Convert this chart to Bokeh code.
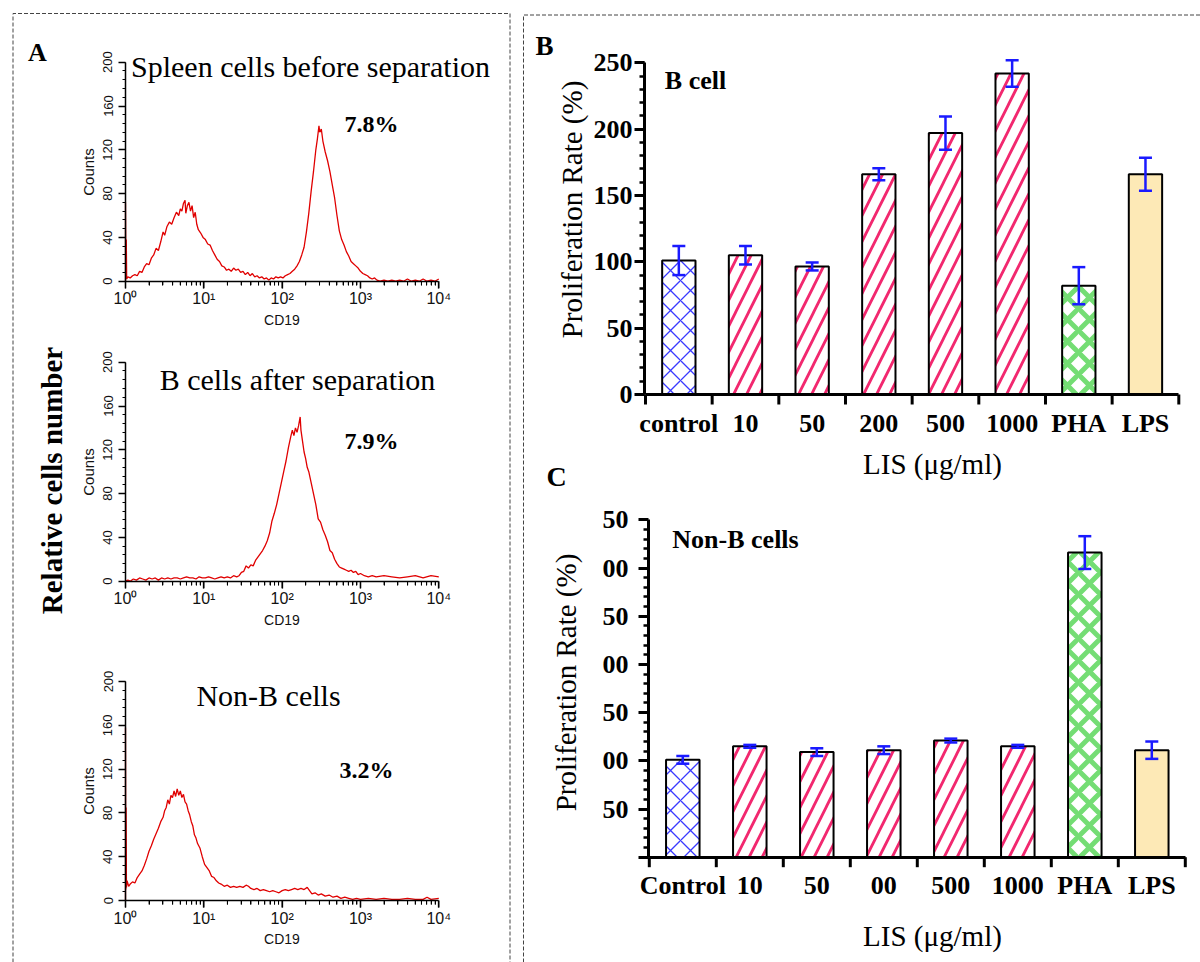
import math
from bokeh.plotting import figure
from bokeh.models import (Range1d, LogScale, LinearAxis, LogAxis, FixedTicker,
                          SingleIntervalTicker, Label, ColumnDataSource)
from bokeh.embed import file_html
from bokeh.resources import INLINE

# ---------------- data ----------------
# Panel A: flow-cytometry histograms (x = log10 of CD19 intensity, y = counts)
h1_log_cd19 = [
    0.00, 0.00, 0.005, 0.01, 0.015, 0.03, 0.06, 0.09, 0.12, 0.15,
    0.18, 0.21, 0.24, 0.27, 0.30, 0.33, 0.36, 0.39, 0.42, 0.45,
    0.48, 0.50, 0.53, 0.56, 0.59, 0.62, 0.65, 0.68, 0.70, 0.72,
    0.74, 0.76, 0.77, 0.79, 0.81, 0.83, 0.85, 0.87, 0.89, 0.91,
    0.93, 0.96, 0.99, 1.02, 1.05, 1.08, 1.11, 1.14, 1.17, 1.20,
    1.23, 1.26, 1.29, 1.32, 1.35, 1.38, 1.41, 1.44, 1.47, 1.50,
    1.53, 1.56, 1.59, 1.62, 1.65, 1.68, 1.71, 1.74, 1.77, 1.80,
    1.83, 1.86, 1.89, 1.92, 1.95, 1.98, 2.01, 2.04, 2.07, 2.10,
    2.13, 2.16, 2.19, 2.22, 2.25, 2.28, 2.31, 2.34, 2.37, 2.40,
    2.43, 2.45, 2.47, 2.48, 2.50, 2.52, 2.55, 2.58, 2.61, 2.64,
    2.67, 2.70, 2.73, 2.76, 2.79, 2.82, 2.85, 2.88, 2.91, 2.94,
    2.97, 3.00, 3.03, 3.06, 3.09, 3.12, 3.15, 3.18, 3.21, 3.25,
    3.30, 3.35, 3.40, 3.45, 3.50, 3.55, 3.60, 3.65, 3.70, 3.75,
    3.80, 3.85, 3.90, 3.95, 4.00]
h1_counts = [
    0, 72, 6, 38, 2, 4, 3, 5, 6, 5,
    9, 8, 13, 16, 15, 21, 24, 30, 28, 36,
    45, 42, 50, 54, 52, 58, 63, 60, 66, 64,
    71, 74, 62, 69, 72, 64, 69, 58, 63, 52,
    47, 44, 40, 38, 34, 33, 28, 24, 20, 18,
    14, 13, 10, 11, 9, 12, 10, 11, 8, 9,
    6, 8, 5, 7, 4, 5, 3, 4, 2, 3,
    1, 3, 2, 4, 3, 4, 3, 5, 6, 7,
    9, 11, 14, 18, 24, 31, 45, 62, 82, 100,
    120, 130, 142, 136, 139, 128, 118, 110, 100, 88,
    76, 60, 46, 38, 33, 27, 23, 18, 16, 14,
    12, 9, 7, 6, 5, 3, 2, 3, 1, 0,
    1, 0, 1, 0, 1, 0, 2, 0, 1, 0,
    2, 0, 1, 0, 2]

h2_log_cd19 = [
    0.00, 0.03, 0.06, 0.10, 0.14, 0.18, 0.22, 0.26, 0.30, 0.34,
    0.38, 0.42, 0.46, 0.50, 0.54, 0.58, 0.62, 0.66, 0.70, 0.74,
    0.78, 0.82, 0.86, 0.90, 0.94, 0.98, 1.02, 1.06, 1.10, 1.14,
    1.18, 1.22, 1.26, 1.30, 1.34, 1.38, 1.42, 1.45, 1.48, 1.51,
    1.54, 1.57, 1.60, 1.63, 1.66, 1.69, 1.72, 1.75, 1.78, 1.81,
    1.84, 1.87, 1.90, 1.93, 1.96, 1.99, 2.02, 2.05, 2.08, 2.11,
    2.13, 2.15, 2.17, 2.19, 2.21, 2.23, 2.24, 2.26, 2.28, 2.30,
    2.32, 2.34, 2.37, 2.40, 2.43, 2.46, 2.49, 2.52, 2.55, 2.58,
    2.61, 2.64, 2.67, 2.70, 2.73, 2.76, 2.79, 2.82, 2.85, 2.88,
    2.91, 2.94, 2.97, 3.00, 3.05, 3.10, 3.15, 3.20, 3.30, 3.40,
    3.50, 3.60, 3.70, 3.80, 3.90, 4.00]
h2_counts = [
    0, 1, 0, 2, 1, 3, 2, 1, 3, 2,
    3, 1, 3, 2, 3, 2, 3, 3, 2, 3,
    4, 3, 3, 2, 4, 3, 3, 4, 3, 2,
    3, 4, 3, 4, 3, 5, 4, 5, 8, 9,
    14, 12, 15, 14, 19, 22, 25, 28, 32, 37,
    44, 55, 62, 70, 80, 90, 100, 110, 122, 132,
    138, 133, 140, 136, 142, 150, 138, 128, 118, 112,
    104, 100, 90, 80, 70, 57, 54, 47, 42, 36,
    28, 26, 20, 16, 13, 12, 11, 10, 9, 10,
    8, 9, 6, 7, 5, 4, 5, 4, 5, 4,
    3, 4, 5, 3, 5, 4]

h3_log_cd19 = [
    0.00, 0.00, 0.004, 0.008, 0.012, 0.02, 0.04, 0.06, 0.09, 0.12,
    0.15, 0.18, 0.21, 0.24, 0.27, 0.30, 0.33, 0.36, 0.39, 0.42,
    0.45, 0.48, 0.50, 0.52, 0.54, 0.56, 0.58, 0.60, 0.62, 0.64,
    0.66, 0.68, 0.70, 0.72, 0.74, 0.76, 0.78, 0.80, 0.82, 0.84,
    0.86, 0.88, 0.90, 0.92, 0.95, 0.98, 1.01, 1.04, 1.07, 1.10,
    1.13, 1.16, 1.19, 1.22, 1.26, 1.30, 1.34, 1.38, 1.42, 1.46,
    1.50, 1.54, 1.57, 1.60, 1.64, 1.68, 1.72, 1.76, 1.80, 1.84,
    1.88, 1.92, 1.96, 2.00, 2.04, 2.08, 2.12, 2.16, 2.20, 2.24,
    2.28, 2.32, 2.35, 2.38, 2.42, 2.46, 2.50, 2.55, 2.60, 2.65,
    2.70, 2.75, 2.80, 2.85, 2.90, 2.95, 3.00, 3.10, 3.20, 3.30,
    3.40, 3.50, 3.60, 3.70, 3.80, 3.85, 3.90, 4.00]
h3_counts = [
    0, 158, 10, 85, 12, 18, 13, 15, 17, 16,
    21, 24, 27, 32, 38, 45, 50, 56, 61, 66,
    72, 76, 82, 85, 92, 88, 96, 94, 100, 95,
    102, 96, 100, 94, 97, 90, 88, 82, 78, 72,
    68, 60, 57, 52, 48, 40, 33, 30, 27, 22,
    21, 18, 16, 15, 13, 14, 12, 13, 12, 13,
    12, 14, 13, 11, 10, 11, 9, 10, 9, 8,
    9, 8, 7, 9, 10, 9, 10, 11, 10, 11,
    10, 12, 9, 6, 7, 5, 6, 4, 5, 3,
    4, 2, 3, 2, 1, 2, 1, 2, 1, 2,
    1, 1, 2, 1, 1, 3, 1, 2]

hist_titles = ["Spleen cells before separation", "B cells after separation", "Non-B cells"]
hist_percents = ["7.8%", "7.9%", "3.2%"]
hist_decades = [1, 10, 100, 1000, 10000]
hist_decade_labels = ["10\u2070", "10\u00b9", "10\u00b2", "10\u00b3", "10\u2074"]

# Panel B
b_categories = ["control", "10", "50", "200", "500", "1000", "PHA", "LPS"]
b_values = [101, 105, 96.5, 166, 197, 242, 82, 166]
b_errors = [11, 7, 3, 4.5, 12.5, 10, 14, 12.5]

# Panel C (tick labels as printed, leading digits cropped in the original)
c_categories = ["Control", "10", "50", "00", "500", "1000", "PHA", "LPS"]
c_values = [101, 115, 109, 111, 121, 115, 316, 111]
c_errors = [4, 1.5, 4, 4, 2, 1.5, 17, 9]
c_tick_values = [0, 50, 100, 150, 200, 250, 300, 350]
c_tick_labels = ["", "50", "00", "50", "00", "50", "00", "50"]

bar_kind = ["control", "lis", "lis", "lis", "lis", "lis", "pha", "lps"]

# ---------------- layout / style ----------------
W, H = 1200, 962
SERIF = "Liberation Serif"
SANS = "Liberation Sans"
EB = "#1a1aff"
STYLE = {
    "control": dict(fill="white", hatch="x", hcolor="#3a3aff", hscale=20, hweight=1.3),
    "lis": dict(fill="white", hatch="/", hcolor="#f2286f", hscale=26, hweight=2.8),
    "pha": dict(fill="white", hatch="x", hcolor="#74dd74", hscale=22, hweight=5),
    "lps": dict(fill="#fde9b6", hatch=" ", hcolor="#fde9b6", hscale=12, hweight=1),
}


def Y(px):
    """page pixel row (from top) -> default y coordinate (bottom-up)"""
    return H - px


def lin_x(v_a, p_a, v_b, p_b):
    k = (v_b - v_a) / (p_b - p_a)
    return Range1d(v_a - p_a * k, v_a + (W - p_a) * k)


def lin_y(v_a, p_a, v_b, p_b):
    k = (v_b - v_a) / (p_b - p_a)
    return Range1d(v_a + (H - p_a) * k, v_a - p_a * k)


def log_x(e_a, p_a, e_b, p_b):
    k = (e_b - e_a) / (p_b - p_a)
    return Range1d(10 ** (e_a - p_a * k), 10 ** (e_a + (W - p_a) * k))


def px_len(rng, px):
    """length of px screen pixels expressed in units of a vertical range"""
    return (rng.end - rng.start) * px / H


p = figure(width=W, height=H, x_range=Range1d(0, W), y_range=Range1d(0, H),
           x_axis_type=None, y_axis_type=None, toolbar_location=None,
           output_backend="svg", min_border=0, outline_line_color=None,
           background_fill_color="white", border_fill_color="white")

# histogram geometry (pixel positions of axis ends)
HX0, HX1 = 125, 438.3
hist_y = [(280.7, 61.7), (580.7, 361.7), (900.0, 681.0)]

p.extra_x_ranges = {
    "xA": log_x(0, HX0, 4, HX1),
    "xB": lin_x(-0.5, 645, 7.5, 1178.3),
    "xC": lin_x(-0.5, 648.8, 7.5, 1184.8),
}
p.extra_x_scales = {"xA": LogScale()}
p.extra_y_ranges = {
    "yA1": lin_y(0, hist_y[0][0], 200, hist_y[0][1]),
    "yA2": lin_y(0, hist_y[1][0], 200, hist_y[1][1]),
    "yA3": lin_y(0, hist_y[2][0], 200, hist_y[2][1]),
    "yB": lin_y(0, 394, 250, 62.3),
    "yC": lin_y(0, 856.7, 350, 519.3),
}

# ---------------- dashed panel borders ----------------
p.line([12.5, 12.5, 509.5, 509.5], [Y(H), Y(13), Y(13), Y(H)], line_color="#444444",
       line_width=1, line_dash="4 2")
p.line([523, 523, W], [Y(H), Y(14.5), Y(14.5)], line_color="#444444",
       line_width=1, line_dash="4 2")

# ---------------- Panel A ----------------
minor_log = [m * 10 ** d for d in range(4) for m in range(2, 10)]
hist_data = [(h1_log_cd19, h1_counts), (h2_log_cd19, h2_counts), (h3_log_cd19, h3_counts)]
for i, (logs, counts) in enumerate(hist_data):
    yname = "yA%d" % (i + 1)
    yr = p.extra_y_ranges[yname]
    p.line([10 ** e for e in logs], counts, x_range_name="xA", y_range_name=yname,
           line_color="#e00000", line_width=1.3)
    xa = LogAxis(x_range_name="xA", fixed_location=Y(hist_y[i][0]), bounds=(1, 10000),
                 ticker=FixedTicker(ticks=hist_decades, minor_ticks=minor_log),
                 major_label_overrides=dict(zip(hist_decades, hist_decade_labels)),
                 axis_label="CD19", axis_line_width=1.5, axis_line_color="black",
                 major_tick_out=7, major_tick_in=0, minor_tick_out=4, minor_tick_in=0,
                 major_tick_line_width=1.3, minor_tick_line_width=1,
                 major_tick_line_color="black", minor_tick_line_color="black",
                 major_label_text_font=SANS, major_label_text_font_size="16px",
                 major_label_text_color="#111111", major_label_standoff=2,
                 axis_label_text_font=SANS, axis_label_text_font_size="14px",
                 axis_label_text_font_style="normal", axis_label_text_color="#111111",
                 axis_label_standoff=1)
    p.add_layout(xa, "below")
    # tick marks under the x axis
    p.segment(x0=hist_decades, x1=hist_decades, y0=[0] * 5, y1=[-px_len(yr, 7)] * 5,
              x_range_name="xA", y_range_name=yname, line_color="black", line_width=1.3)
    p.segment(x0=minor_log, x1=minor_log, y0=[0] * len(minor_log),
              y1=[-px_len(yr, 4)] * len(minor_log),
              x_range_name="xA", y_range_name=yname, line_color="black", line_width=1)
    ya = LinearAxis(y_range_name=yname, fixed_location=HX0, bounds=(0, 200),
                    ticker=SingleIntervalTicker(interval=40, num_minor_ticks=5),
                    major_label_orientation="vertical",
                    axis_label="Counts", axis_line_width=1.5, axis_line_color="black",
                    major_tick_out=7, major_tick_in=0, minor_tick_out=3, minor_tick_in=0,
                    major_tick_line_width=1.3, minor_tick_line_width=1,
                    major_tick_line_color="black", minor_tick_line_color="black",
                    major_label_text_font=SANS, major_label_text_font_size="13px",
                    major_label_text_color="#111111", major_label_standoff=6,
                    axis_label_text_font=SANS, axis_label_text_font_size="15px",
                    axis_label_text_font_style="normal", axis_label_text_color="#111111",
                    axis_label_standoff=4)
    p.add_layout(ya, "left")

title_pos = [(310, 66), (297, 379), (268, 695)]
pct_pos = [(371, 123), (371, 440), (366, 769)]
for t, (tx, ty) in zip(hist_titles, title_pos):
    p.add_layout(Label(x=tx, y=Y(ty), text=t, text_font=SERIF, text_font_size="30px",
                       text_align="center", text_baseline="middle", text_color="black"))
for t, (tx, ty) in zip(hist_percents, pct_pos):
    p.add_layout(Label(x=tx, y=Y(ty), text=t, text_font=SERIF, text_font_size="24px",
                       text_font_style="bold", text_align="center", text_baseline="middle",
                       text_color="black"))
p.add_layout(Label(x=37, y=Y(52), text="A", text_font=SERIF, text_font_size="26px",
                   text_font_style="bold", text_align="center", text_baseline="middle",
                   text_color="black"))
p.add_layout(Label(x=51, y=Y(480), text="Relative cells number", angle=math.pi / 2,
                   text_font=SERIF, text_font_size="29px", text_font_style="bold",
                   text_align="center", text_baseline="middle", text_color="black"))


# ---------------- Panels B and C ----------------
def bar_panel(xname, yname, cats, vals, errs, x_axis_px, y_axis_px, y_bounds,
              y_ticker, y_overrides, y_label_standoff):
    idx = list(range(len(cats)))
    yr = p.extra_y_ranges[yname]
    src = ColumnDataSource(dict(
        x=idx, top=vals,
        fill=[STYLE[k]["fill"] for k in bar_kind],
        hatch=[STYLE[k]["hatch"] for k in bar_kind],
        hcolor=[STYLE[k]["hcolor"] for k in bar_kind],
        hscale=[STYLE[k]["hscale"] for k in bar_kind],
        hweight=[STYLE[k]["hweight"] for k in bar_kind],
    ))
    p.vbar(x="x", top="top", bottom=0, width=0.5, source=src,
           x_range_name=xname, y_range_name=yname,
           fill_color="fill", hatch_pattern="hatch", hatch_color="hcolor",
           hatch_scale="hscale", hatch_weight="hweight",
           line_color="black", line_width=2)
    lo = [v - e for v, e in zip(vals, errs)]
    hi = [v + e for v, e in zip(vals, errs)]
    p.segment(x0=idx, y0=lo, x1=idx, y1=hi, x_range_name=xname, y_range_name=yname,
              line_color=EB, line_width=2.5)
    p.scatter(x=idx + idx, y=lo + hi, marker="dash", size=13, line_color=EB,
              line_width=2.5, x_range_name=xname, y_range_name=yname)

    ya = LinearAxis(y_range_name=yname, fixed_location=y_axis_px, bounds=y_bounds,
                    ticker=y_ticker, axis_line_width=3, axis_line_color="black",
                    major_tick_out=10, major_tick_in=0, minor_tick_out=5, minor_tick_in=0,
                    major_tick_line_width=3, minor_tick_line_width=2.5,
                    major_tick_line_color="black", minor_tick_line_color="black",
                    major_label_text_font=SERIF, major_label_text_font_style="bold",
                    major_label_text_color="black",
                    major_label_text_font_size="26px", major_label_standoff=y_label_standoff)
    if y_overrides:
        ya.major_label_overrides = y_overrides
    p.add_layout(ya, "left")

    # category axis: labels at bar centres
    xa = LinearAxis(x_range_name=xname, fixed_location=Y(x_axis_px),
                    bounds=(-0.5, len(cats) - 0.5),
                    ticker=FixedTicker(ticks=idx, minor_ticks=[]),
                    major_label_overrides=dict(zip(idx, cats)),
                    axis_line_width=3, axis_line_color="black",
                    major_tick_line_color=None, major_tick_out=10, major_tick_in=0,
                    minor_tick_line_color=None,
                    major_label_text_font=SERIF, major_label_text_font_style="bold",
                    major_label_text_color="black",
                    major_label_text_font_size="26px", major_label_standoff=4)
    p.add_layout(xa, "below")
    # separator ticks between categories, below the axis line
    edges = [i - 0.5 for i in range(len(cats) + 1)]
    p.segment(x0=edges, x1=edges, y0=[0] * len(edges),
              y1=[-px_len(yr, 10)] * len(edges),
              x_range_name=xname, y_range_name=yname, line_color="black", line_width=3)


bar_panel("xB", "yB", b_categories, b_values, b_errors, 394, 644, (0, 250),
          SingleIntervalTicker(interval=50, num_minor_ticks=5), None, 2)
c_minor = [v for v in range(10, 350, 10) if v % 50]
bar_panel("xC", "yC", c_categories, c_values, c_errors, 856.7, 648, (0, 350),
          FixedTicker(ticks=c_tick_values, minor_ticks=c_minor),
          dict(zip(c_tick_values, c_tick_labels)), 10)

# panel texts
for tx, ty, t, size in [(544, 45, "B", "27px"), (556, 476, "C", "28px"),
                        (695, 80, "B cell", "26px"), (735, 539, "Non-B cells", "26px")]:
    p.add_layout(Label(x=tx, y=Y(ty), text=t, text_font=SERIF, text_font_size=size,
                       text_font_style="bold", text_align="center", text_baseline="middle",
                       text_color="black"))
for tx, ty in [(571, 209), (565, 682)]:
    p.add_layout(Label(x=tx, y=Y(ty), text="Proliferation Rate (%)", angle=math.pi / 2,
                       text_font=SERIF, text_font_size="29px", text_align="center",
                       text_baseline="middle", text_color="black"))
for tx, ty in [(932, 463), (932, 935)]:
    p.add_layout(Label(x=tx, y=Y(ty), text="LIS (\u03bcg/ml)", text_font=SERIF,
                       text_font_size="29px", text_align="center", text_baseline="middle",
                       text_color="black"))

open("out.html", "w").write(file_html(p, INLINE))
